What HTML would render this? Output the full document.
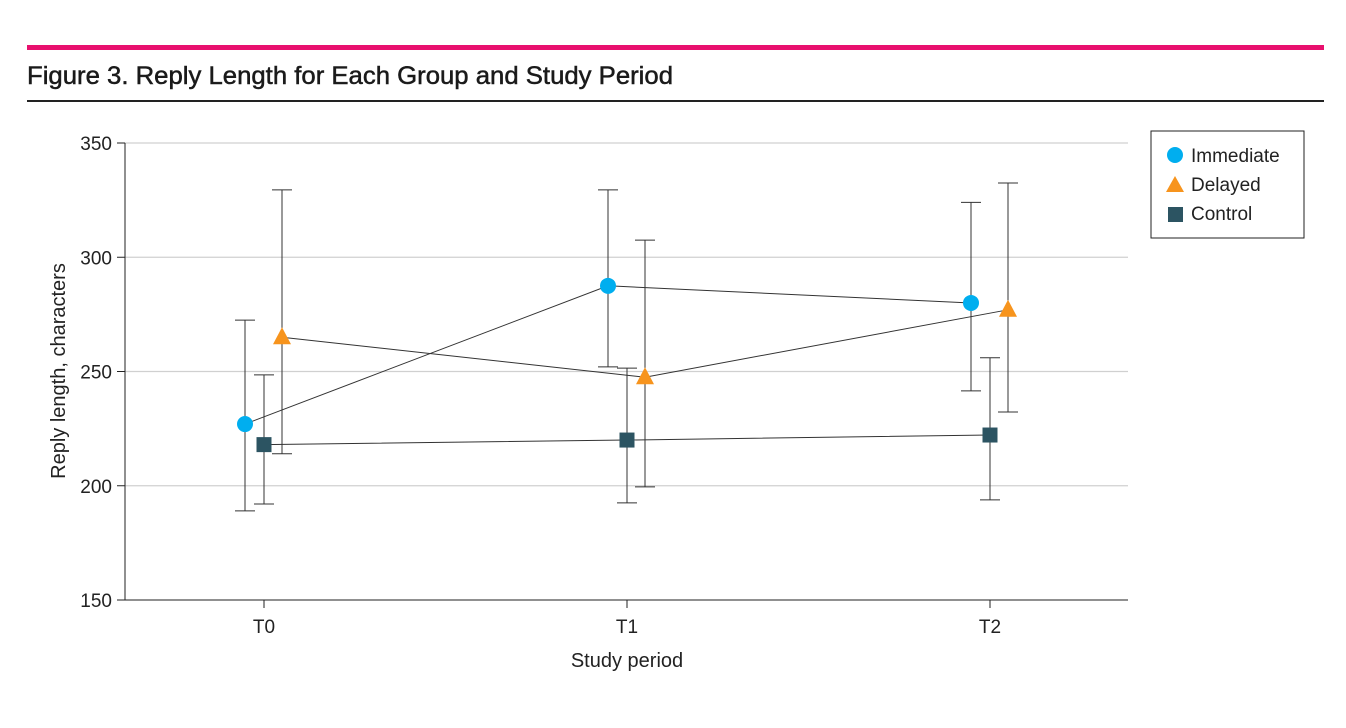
<!DOCTYPE html>
<html><head><meta charset="utf-8"><style>
html,body{margin:0;padding:0;background:#fff;}
svg{display:block;font-family:"Liberation Sans",sans-serif;}
</style></head><body>
<svg id="chart" width="1346" height="728">
<rect x="27" y="45" width="1297" height="5" fill="#e8106e"/>
<text x="27" y="84" font-size="25" fill="#1a1a1a" stroke="#1a1a1a" stroke-width="0.5" textLength="646" lengthAdjust="spacingAndGlyphs">Figure 3. Reply Length for Each Group and Study Period</text>
<rect x="27" y="100" width="1297" height="2" fill="#222"/>
<g id="grid"></g>
<g id="axes"></g>
<g id="series"></g>
<text x="627" y="667" font-size="20" text-anchor="middle" fill="#222">Study period</text>
<text transform="translate(65,371) rotate(-90)" font-size="20" text-anchor="middle" fill="#222">Reply length, characters</text>
<g>
<rect x="1151" y="131" width="153" height="107" fill="#fff" stroke="#222" stroke-width="1"/>
<circle cx="1175" cy="155" r="8" fill="#00aeef"/>
<text x="1191" y="162" font-size="19" fill="#222">Immediate</text>
<polygon points="1175,176 1184,192 1166,192" fill="#f7941d"/>
<text x="1191" y="191" font-size="19" fill="#222">Delayed</text>
<rect x="1168" y="207" width="15" height="15" fill="#2c5462"/>
<text x="1191" y="220" font-size="19" fill="#222">Control</text>
</g>
</svg>
<script>
const categories = ["T0","T1","T2"];
const yTicks = [150,200,250,300,350];
const immediateMean = [227, 287.5, 280];
const immediateLow = [189, 252, 241.5];
const immediateHigh = [272.5, 329.5, 324];
const delayedMean = [265, 247.5, 277];
const delayedLow = [214, 199.5, 232.3];
const delayedHigh = [329.5, 307.5, 332.5];
const controlMean = [218, 220, 222.2];
const controlLow = [192, 192.5, 193.8];
const controlHigh = [248.5, 251.5, 256];

const NS="http://www.w3.org/2000/svg";
const X0=125, X1=1128, Y0=600, Y1=143;
function yScale(v){return Y0-(v-150)/(350-150)*(Y0-Y1);}
function xScale(i){return 264+i*363;}
function mk(tag,attrs,parent){const e=document.createElementNS(NS,tag);for(const k in attrs)e.setAttribute(k,attrs[k]);parent.appendChild(e);return e;}
const grid=document.getElementById('grid'), axes=document.getElementById('axes'), ser=document.getElementById('series');
yTicks.forEach(t=>{
  const y=yScale(t);
  if(t>150){const g=mk('line',{x1:X0,x2:X1,y1:y,y2:y,stroke:'#d0d0d0','stroke-width':1.3},grid);
  
  }
  mk('line',{x1:X0-8,x2:X0,y1:y,y2:y,stroke:'#222'},axes);
  const l=mk('text',{x:X0-13,y:y+7,'font-size':19,'text-anchor':'end',fill:'#222'},axes);l.textContent=t;
  
  
});
mk('line',{x1:X0,x2:X0,y1:Y1,y2:Y0,stroke:'#222'},axes);
mk('line',{x1:X0,x2:X1,y1:Y0,y2:Y0,stroke:'#222'},axes);
categories.forEach((c,i)=>{
  const x=xScale(i);
  mk('line',{x1:x,x2:x,y1:Y0,y2:Y0+8,stroke:'#222'},axes);
  const l=mk('text',{x:x,y:Y0+33,'font-size':19,'text-anchor':'middle',fill:'#222'},axes);l.textContent=c;
  
  
});
const groups=[
 {name:'immediate',mean:immediateMean,low:immediateLow,high:immediateHigh,off:-19,shape:'circle',color:'#00aeef'},
 {name:'delayed',mean:delayedMean,low:delayedLow,high:delayedHigh,off:18,shape:'tri',color:'#f7941d'},
 {name:'control',mean:controlMean,low:controlLow,high:controlHigh,off:0,shape:'sq',color:'#2c5462'}];
groups.forEach(g=>{
  const pts=g.mean.map((v,i)=>[xScale(i)+g.off,yScale(v)]);
  const line=mk('polyline',{points:pts.map(p=>p.join(',')).join(' '),fill:'none',stroke:'#333','stroke-width':1},ser);
  
  
  g.mean.forEach((v,i)=>{
    const x=xScale(i)+g.off, yl=yScale(g.low[i]), yh=yScale(g.high[i]);
    const eb=mk('path',{d:`M${x},${yl}V${yh}M${x-10},${yl}H${x+10}M${x-10},${yh}H${x+10}`,stroke:'#333','stroke-width':1,fill:'none'},ser);
    
    
  });
  pts.forEach((p,i)=>{
    let m;
    if(g.shape==='circle') m=mk('circle',{cx:p[0],cy:p[1],r:8,fill:g.color},ser);
    else if(g.shape==='tri') m=mk('polygon',{points:`${p[0]},${p[1]-10} ${p[0]+9},${p[1]+7} ${p[0]-9},${p[1]+7}`,fill:g.color},ser);
    else m=mk('rect',{x:p[0]-7.5,y:p[1]-7.5,width:15,height:15,fill:g.color},ser);
    
    
  });
});
</script>
</body></html>
